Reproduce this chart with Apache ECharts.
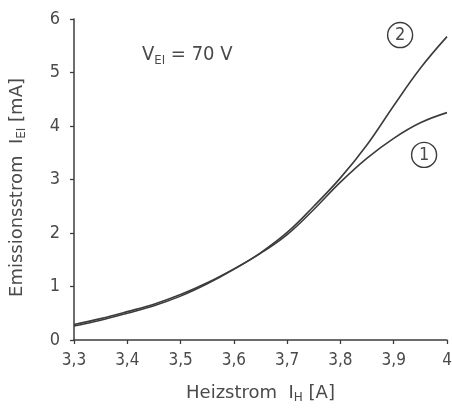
<!DOCTYPE html>
<html>
<head>
<meta charset="utf-8">
<script src="https://cdn.jsdelivr.net/npm/echarts@6/dist/echarts.min.js"></script>
<style>
html,body{margin:0;padding:0;background:#fff;}
#c{width:452px;height:412px;}
</style>
</head>
<body>
<div id="c"></div>
<script>
var xValues = [3.30, 3.35, 3.40, 3.45, 3.50, 3.55, 3.60, 3.65, 3.70, 3.75, 3.80, 3.85, 3.90, 3.95, 4.00];
var curve1 = [0.29, 0.40, 0.53, 0.67, 0.85, 1.07, 1.33, 1.62, 1.97, 2.44, 2.95, 3.40, 3.77, 4.06, 4.25];
var curve2 = [0.26, 0.37, 0.50, 0.64, 0.82, 1.05, 1.32, 1.63, 2.01, 2.50, 3.03, 3.65, 4.38, 5.08, 5.67];
var xTickLabels = ['3,3', '3,4', '3,5', '3,6', '3,7', '3,8', '3,9', '4'];
var yTickLabels = ['0', '1', '2', '3', '4', '5', '6'];
var curveLabels = ['1', '2'];
var labelPos1 = [3.957, 3.46];
var labelPos2 = [3.912, 5.70];

var FONT = "'DejaVu Sans Condensed', 'DejaVu Sans', sans-serif";
var FONT_NAME = "'DejaVu Sans', sans-serif";
var TXT = '#4a4a4a';
var LINE = '#3c3c3c';

function pairs(xs, ys) { return xs.map(function (x, i) { return [x, ys[i]]; }); }

function circleMark(pos, label) {
  return {
    symbol: 'circle',
    symbolSize: 25,
    silent: true,
    itemStyle: { color: 'rgba(0,0,0,0)', borderColor: LINE, borderWidth: 1.4 },
    label: { show: true, position: 'inside', color: TXT, fontFamily: FONT, fontSize: 18, formatter: label },
    data: [{ coord: pos }]
  };
}

var chart = echarts.init(document.getElementById('c'), null, { renderer: 'canvas' });
chart.setOption({
  animation: false,
  backgroundColor: '#fff',
  title: {
    left: 137, top: 37,
    text: '{v|V}{s|EI}{v| = 70 V}',
    textStyle: {
      fontWeight: 'normal',
      rich: {
        v: { fontFamily: FONT, fontSize: 20, color: TXT, fontWeight: 'normal' },
        s: { fontFamily: FONT, fontSize: 13, color: TXT, fontWeight: 'normal', verticalAlign: 'bottom', padding: [12, 0, 0, 0] }
      }
    }
  },
  grid: { left: 74, right: 5, top: 19, bottom: 72, outerBoundsMode: 'none', containLabel: false },
  xAxis: {
    type: 'value', min: 3.3, max: 4.0, interval: 0.1,
    axisLine: { show: true, lineStyle: { color: LINE, width: 1.5 } },
    axisTick: { show: true, length: 4, inside: false, lineStyle: { color: LINE, width: 1.3 } },
    splitLine: { show: false },
    axisLabel: {
      color: TXT, fontFamily: FONT, fontSize: 17, margin: 12,
      formatter: function (v) { return xTickLabels[Math.round((v - 3.3) * 10)]; }
    },
    name: '{a|Heizstrom  I}{s|H}{a| [A]}',
    nameLocation: 'middle', nameGap: 42,
    nameTextStyle: {
      rich: {
        a: { fontFamily: FONT_NAME, fontSize: 18, color: TXT },
        s: { fontFamily: FONT_NAME, fontSize: 12, color: TXT, padding: [10, 0, 0, 0] }
      }
    }
  },
  yAxis: {
    type: 'value', min: 0, max: 6, interval: 1,
    axisLine: { show: true, lineStyle: { color: LINE, width: 1.5 } },
    axisTick: { show: true, length: 4, inside: false, lineStyle: { color: LINE, width: 1.3 } },
    splitLine: { show: false },
    axisLabel: {
      color: TXT, fontFamily: FONT, fontSize: 18, margin: 14,
      formatter: function (v) { return yTickLabels[Math.round(v)]; }
    },
    name: '{a|Emissionsstrom  I}{s|EI}{a| [mA]}',
    nameLocation: 'middle', nameGap: 46,
    nameTextStyle: {
      padding: [0, 16, 0, 0],
      rich: {
        a: { fontFamily: FONT_NAME, fontSize: 18, color: TXT },
        s: { fontFamily: FONT_NAME, fontSize: 12, color: TXT, padding: [10, 0, 0, 0] }
      }
    }
  },
  series: [
    {
      type: 'line', name: curveLabels[0], data: pairs(xValues, curve1), smooth: 0.4,
      showSymbol: false, lineStyle: { color: LINE, width: 1.6 },
      markPoint: circleMark(labelPos1, curveLabels[0])
    },
    {
      type: 'line', name: curveLabels[1], data: pairs(xValues, curve2), smooth: 0.4,
      showSymbol: false, lineStyle: { color: LINE, width: 1.6 },
      markPoint: circleMark(labelPos2, curveLabels[1])
    }
  ]
});
</script>
</body>
</html>
